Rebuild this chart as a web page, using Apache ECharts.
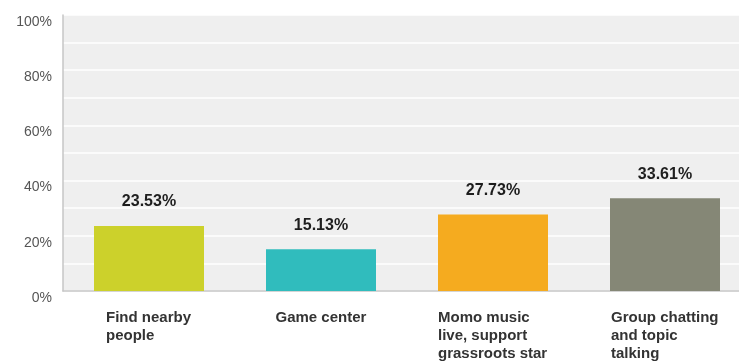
<!DOCTYPE html>
<html>
<head>
<meta charset="utf-8">
<script src="https://cdn.jsdelivr.net/npm/echarts@6/dist/echarts.min.js"></script>
<style>
  html, body { margin: 0; padding: 0; background: #ffffff; }
  #chart { width: 739px; height: 361px; }
</style>
</head>
<body>
<div id="chart"></div>
<script>
// Feature usage shares (%)
const categories = [
  'Find nearby\npeople',
  'Game center',
  'Momo music\nlive, support\ngrassroots star',
  'Group chatting\nand topic\ntalking'
];
const values = [23.53, 15.13, 27.73, 33.61];
const barColors = ['#ccd12b', '#30bcbd', '#f5ab1f', '#858776'];
const yTickLabels = ['0%', '20%', '40%', '60%', '80%', '100%'];

const FONT = '"Liberation Sans", Arial, sans-serif';
const LABEL_SIZE = 15;

// Measure the widest line of each category label so the lines can be
// left-aligned inside a block that is centred under its bar.
const ctx = document.createElement('canvas').getContext('2d');
ctx.font = 'bold ' + LABEL_SIZE + 'px ' + FONT;
const rich = {};
categories.forEach((c, i) => {
  const w = Math.max(...c.split('\n').map(l => ctx.measureText(l).width));
  rich['c' + i] = {
    width: Math.ceil(w),
    align: 'left',
    fontFamily: FONT,
    fontWeight: 'bold',
    fontSize: LABEL_SIZE,
    lineHeight: 18,
    color: '#333333'
  };
});

const chart = echarts.init(document.getElementById('chart'), null, { renderer: 'canvas' });
chart.setOption({
  animation: false,
  backgroundColor: '#ffffff',
  // the plot runs past the right edge of the canvas, so the last band is cut off
  grid: {
    left: 63, width: 688, top: 15, bottom: 70,
    outerBoundsMode: 'none',
    show: true, backgroundColor: '#efefef', borderWidth: 0
  },
  xAxis: {
    type: 'category',
    data: categories,
    axisLine: { lineStyle: { color: '#c6c6c6', width: 1.5 } },
    axisTick: { show: false },
    axisLabel: {
      interval: 0,
      margin: 18,
      formatter: (v, idx) => v.split('\n').map(l => '{c' + idx + '|' + l + '}').join('\n'),
      rich: rich
    }
  },
  yAxis: {
    type: 'value',
    min: 0,
    max: 100,
    interval: 10,
    axisLine: { show: true, lineStyle: { color: '#c6c6c6', width: 1.5 } },
    axisTick: { show: false },
    splitLine: { lineStyle: { color: '#ffffff', width: 1.5 } },
    axisLabel: {
      margin: 11,
      verticalAlign: 'top',
      fontFamily: FONT,
      fontSize: 14,
      color: '#555555',
      formatter: v => {
        const idx = yTickLabels.indexOf(v + '%');
        return idx >= 0 ? yTickLabels[idx] : '';
      }
    }
  },
  series: [{
    type: 'bar',
    barWidth: 110,
    data: values.map((v, i) => ({ value: v, itemStyle: { color: barColors[i] } })),
    label: {
      show: true,
      position: 'top',
      distance: 16,
      fontFamily: FONT,
      fontWeight: 'bold',
      fontSize: 16,
      color: '#1e1e1e',
      formatter: p => p.value.toFixed(2) + '%'
    }
  }]
});
</script>
</body>
</html>
